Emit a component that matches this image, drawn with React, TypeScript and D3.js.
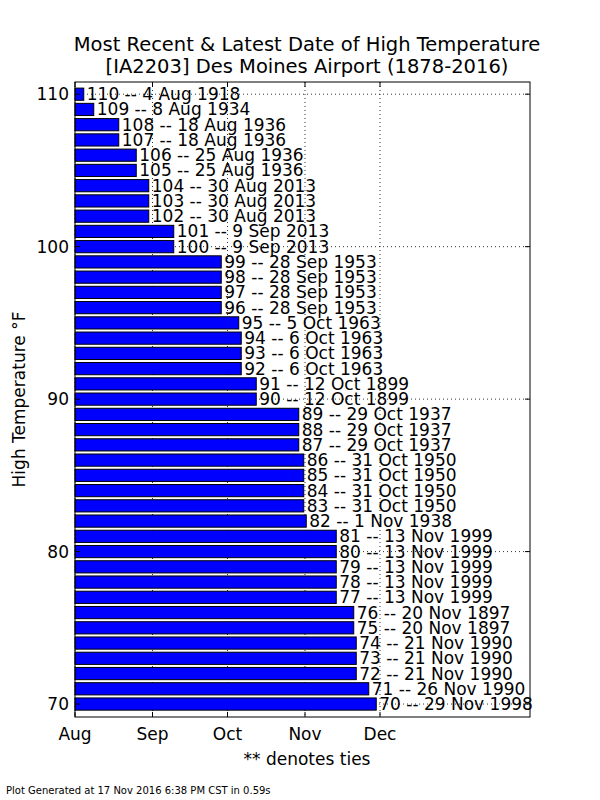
import * as d3 from "d3";
import React from "react";

const temps = [110,109,108,107,106,105,104,103,102,101,100,99,98,97,96,95,94,93,92,91,90,89,88,87,86,85,84,83,82,81,80,79,78,77,76,75,74,73,72,71,70];
const dates = ["4 Aug 1918","8 Aug 1934","18 Aug 1936","18 Aug 1936","25 Aug 1936","25 Aug 1936","30 Aug 2013","30 Aug 2013","30 Aug 2013","9 Sep 2013","9 Sep 2013","28 Sep 1953","28 Sep 1953","28 Sep 1953","28 Sep 1953","5 Oct 1963","6 Oct 1963","6 Oct 1963","6 Oct 1963","12 Oct 1899","12 Oct 1899","29 Oct 1937","29 Oct 1937","29 Oct 1937","31 Oct 1950","31 Oct 1950","31 Oct 1950","31 Oct 1950","1 Nov 1938","13 Nov 1999","13 Nov 1999","13 Nov 1999","13 Nov 1999","13 Nov 1999","20 Nov 1897","20 Nov 1897","21 Nov 1990","21 Nov 1990","21 Nov 1990","26 Nov 1990","29 Nov 1998"];
const months = ["Aug","Sep","Oct","Nov","Dec"];
const yTicks = [70,80,90,100,110];

const parse = d3.timeParse("%d %b %Y");
const toDay = (s: string) => {
  const d = parse(s)!;
  return new Date(2000, d.getMonth(), d.getDate(), 12);
};

const App: React.FC = () => {
  const L = 75, R = 530, T = 82, B = 717;
  const start = new Date(2000, 7, 1);
  const x = d3.scaleTime().domain([start, new Date(2001, 0, 30)]).range([L, R]);
  const y = d3.scaleLinear().domain([69.15, 110.8]).range([B, T]);
  const bh = y(0) - y(0.8);
  const font = "DejaVu Sans";
  return (
    <svg width={600} height={800} style={{ position: "absolute", left: 0, top: 0 }} fontFamily={font}>
      <rect width={600} height={800} fill="white" />
      <text x={307} y={51} textAnchor="middle" fontSize={19.5}>Most Recent &amp; Latest Date of High Temperature</text>
      <text x={307} y={73} textAnchor="middle" fontSize={19.5}>[IA2203] Des Moines Airport (1878-2016)</text>
      {months.map((m, i) => (
        <line key={m} x1={x(new Date(2000, 7 + i, 1))} x2={x(new Date(2000, 7 + i, 1))} y1={T} y2={B} stroke="black" strokeDasharray="1,3" strokeWidth={0.8} />
      ))}
      {yTicks.map(t => (
        <line key={t} x1={L} x2={R} y1={y(t)} y2={y(t)} stroke="black" strokeDasharray="1,3" strokeWidth={0.8} />
      ))}
      {temps.map((t, i) => {
        const d = toDay(dates[i]);
        return (
          <g key={t}>
            <rect x={x(start)} y={y(t) - bh / 2} width={x(d) - x(start)} height={bh} fill="#0000ff" stroke="black" strokeWidth={1} />
            <text x={x(d) + 3} y={y(t) + 6} fontSize={17}>{`${t} -- ${dates[i]}`}</text>
          </g>
        );
      })}
      <rect x={L} y={T} width={R - L} height={B - T} fill="none" stroke="black" />
      {months.map((m, i) => {
        const px = x(new Date(2000, 7 + i, 1));
        return (
          <g key={m}>
            <line x1={px} x2={px} y1={B} y2={B - 5} stroke="black" />
            <line x1={px} x2={px} y1={T} y2={T + 5} stroke="black" />
            <text x={px} y={B + 23} textAnchor="middle" fontSize={17}>{m}</text>
          </g>
        );
      })}
      {yTicks.map(t => (
        <g key={t}>
          <line x1={L} x2={L + 5} y1={y(t)} y2={y(t)} stroke="black" />
          <line x1={R} x2={R - 5} y1={y(t)} y2={y(t)} stroke="black" />
          <text x={L - 6} y={y(t) + 6} textAnchor="end" fontSize={17}>{t}</text>
        </g>
      ))}
      <text transform={`translate(25,${(T + B) / 2}) rotate(-90)`} textAnchor="middle" fontSize={17}>High Temperature °F</text>
      <text x={307} y={765} textAnchor="middle" fontSize={17}>** denotes ties</text>
      <text x={6} y={794} fontSize={10}>Plot Generated at 17 Nov 2016 6:38 PM CST in 0.59s</text>
    </svg>
  );
};

export default App;
